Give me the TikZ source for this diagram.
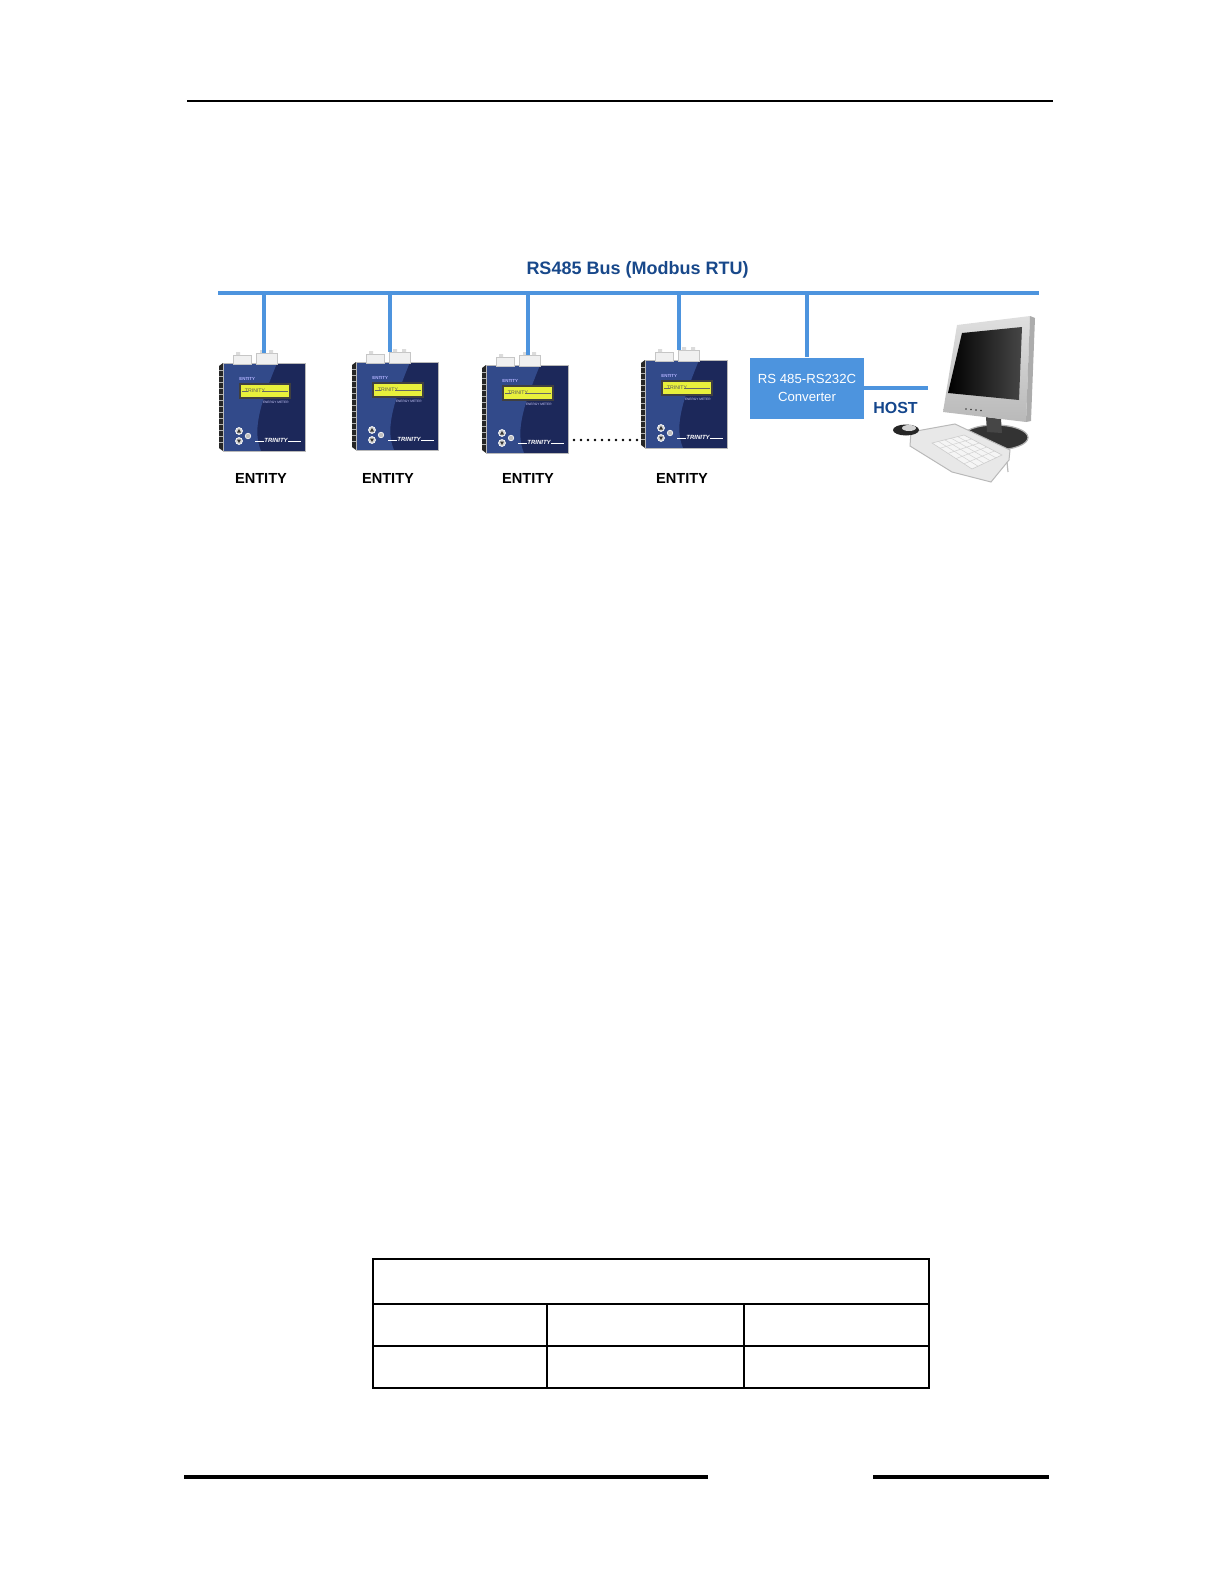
\documentclass[tikz,border=0pt]{standalone}
\usepackage{fontspec}
\setmainfont{Liberation Sans}
\usepackage{tikz}
\usetikzlibrary{positioning}
\definecolor{busblue}{RGB}{77,148,222}
\definecolor{titleblue}{RGB}{24,72,138}
\definecolor{hostblue}{RGB}{20,70,140}
\definecolor{metnavy}{RGB}{28,40,90}
\definecolor{metlight}{RGB}{50,74,138}
\definecolor{lcdyellow}{RGB}{232,240,60}

\begin{document}
\begin{tikzpicture}[x=0.5pt,y=-0.5pt,
	bus/.style={busblue,line width=2pt},
	rule/.style={black,line width=0.6pt},
	footrule/.style={black,line width=1.6pt},
	cell/.style={black,line width=0.7pt},
	meterbox/.style={minimum width=43pt,minimum height=50pt,inner sep=0pt},
	entity/.style={inner sep=0pt,font=\bfseries\fontsize{7.3}{8}\selectfont},
	conv/.style={fill=busblue,text=white,inner sep=0pt,minimum width=57pt,minimum height=30.5pt,align=center,font=\fontsize{6.6}{9.2}\selectfont},
	title/.style={text=titleblue,inner sep=0pt,font=\bfseries\fontsize{9}{10}\selectfont},
	hostlabel/.style={text=hostblue,inner sep=0pt,font=\bfseries\fontsize{8}{9}\selectfont},
	mtext/.style={inner sep=0pt},
	dotline/.style={line width=1.35pt,line cap=round,dash pattern=on 0pt off 3.5pt},
	pics/meter/.style={code={
		\fill[black!85] (-44,-37) -- (-40,-40) -- (-40,48) -- (-44,45) -- cycle;
		\foreach \r in {-33,-27,...,43} \draw[gray!60,line width=0.3pt] (-44,\r) -- (-40,\r);
		\fill[metnavy] (-40,-40) rectangle (42,48);
		\fill[metlight] (-40,-40) -- (14,-40) .. controls (0,-5) and (-12,25) .. (-2,48) -- (-40,48) -- cycle;
		\draw[gray!55,line width=0.5pt] (-40,-40) rectangle (42,48);
		\filldraw[fill=gray!12,draw=gray!45,line width=0.3pt] (-30,-48) rectangle (-12,-39) (-7,-50) rectangle (14,-39);
		\fill[gray!28] (-27,-51) rectangle (-23,-48) (-3,-53) rectangle (1,-50) (6,-53) rectangle (10,-50);
		\node[mtext,anchor=west,text=white!70!blue,font=\bfseries\fontsize{2.2}{2.5}\selectfont] (-id) at (-24,-24) {ENTITY};
		\filldraw[fill=lcdyellow,draw=black!75,line width=0.6pt] (-23,-19) rectangle (27,-5);
		\node[mtext,text=black!65,font=\fontsize{2.6}{3}\selectfont] (-lcd) at (-8,-12) {TRINITY};
		\draw[black!60,line width=0.25pt] (-21,-12) -- (-15,-12) (-1,-12) -- (25,-12);
		\node[mtext,anchor=east,text=white!80!blue,font=\fontsize{1.6}{2}\selectfont] (-kind) at (26,-1) {ENERGY METER};
		\filldraw[fill=gray!35,draw=white!80,line width=0.3pt] (-24,28) circle (3.5) (-24,38) circle (3.5);
		\filldraw[fill=gray!50,draw=white!70,line width=0.3pt] (-15,33) circle (2.8);
		\fill[black!80] (-24,26) -- (-26,29.5) -- (-22,29.5) -- cycle (-24,40) -- (-26,36.5) -- (-22,36.5) -- cycle;
		\node[mtext,text=white,font=\bfseries\itshape\fontsize{3}{3}\selectfont] (-brand) at (13,37) {TRINITY};
		\draw[white!80,line width=0.3pt] (-8,38) -- (1,38) (25,38) -- (38,38);
	}}]
\useasboundingbox (0,0) rectangle (1224,1584);
\draw[rule] (187,101) -- (1053,101);
\node[title,anchor=base] (bustitle) at (637.5,274) {RS485 Bus (Modbus RTU)};
\coordinate (busL) at (218,293);
\coordinate (busR) at (1039,293);
\draw[bus] (busL) -- (busR);
\foreach \n/\x/\y/\bx/\lx/\ld in {m1/263/403/264/-1/9.8,m2/396/402/390/-4/10.3,m3/526/405/528/1/8.8,m4/685/400/679/-1.5/11.3} {
	\node[meterbox] (\n) at (\x,\y) {};
	\pic (\n) at (\n) {meter};
	\draw[bus] (\bx,293) -- (\bx,293 |- \n.north);
	\node[entity,below=\ld pt of \n,xshift=\lx pt] (\n lbl) {ENTITY};
}
\coordinate (dotsL) at (574,440);
\coordinate (dotsR) at (638,440);
\draw[dotline] (dotsL) -- (dotsR);
\node[conv] (conv) at (807,388) {RS 485-RS232C\\Converter};
\draw[bus] (conv.north |- busL) -- (conv.north);
\coordinate (hostin) at (928,388);
\draw[bus] (conv.east) -- (hostin);
\node[hostlabel] (hostlbl) at (895.5,408) {HOST};
\fill[gray!40!black] (995,437.5) ellipse (33 and 12.5);
\draw[gray!60,line width=0.6pt] (995,437.5) ellipse (33 and 12.5);
\fill[gray!55!black] (986,417) -- (1001,419) -- (1002,433) -- (987,432) -- cycle;
\shade[top color=gray!25,bottom color=gray!55] (957,325) -- (1030,316) -- (1026,422) -- (943,412) -- cycle;
\fill[gray!65] (1030,316) -- (1035,318) -- (1031,421) -- (1026,422) -- cycle;
\shade[left color=black,right color=gray!55!black] (962,333) -- (1022,327) -- (1019,400) -- (948,393) -- cycle;
\foreach \k in {0,...,3} \fill[gray!45!black] (966+\k*5,409+\k*0.5) circle (0.9);
\filldraw[fill=gray!18,draw=gray!55,line width=0.5pt] (911,432) -- (955,424) -- (1010,450) -- (1009,460) -- (991,482) -- (952,472) -- (910,446) -- cycle;
\filldraw[fill=gray!8,draw=gray!40,line width=0.3pt] (932,443) -- (964,435) -- (1002,455) -- (972,469) -- cycle;
\foreach \k in {1,...,4} {
	\draw[gray!35,line width=0.25pt] (932+\k*6.4,443-\k*1.6) -- (972+\k*6,469-\k*2.8);
	\draw[gray!35,line width=0.25pt] (932+\k*8,443+\k*5.2) -- (964+\k*7.6,435+\k*4);
}
\draw[gray!55,line width=0.6pt] (1007,462) -- (1008,472);
\fill[black!85] (906,430) ellipse (13 and 5.5);
\fill[gray!35] (909,428) ellipse (7 and 3);
\draw[cell] (373,1259) rectangle (929,1388);
\foreach \ry in {1304,1346} \draw[cell] (373,\ry) -- (929,\ry);
\foreach \cx in {547,744} \draw[cell] (\cx,1304) -- (\cx,1388);
\draw[footrule] (184,1477) -- (708,1477);
\draw[footrule] (873,1477) -- (1049,1477);
\end{tikzpicture}
\end{document}
